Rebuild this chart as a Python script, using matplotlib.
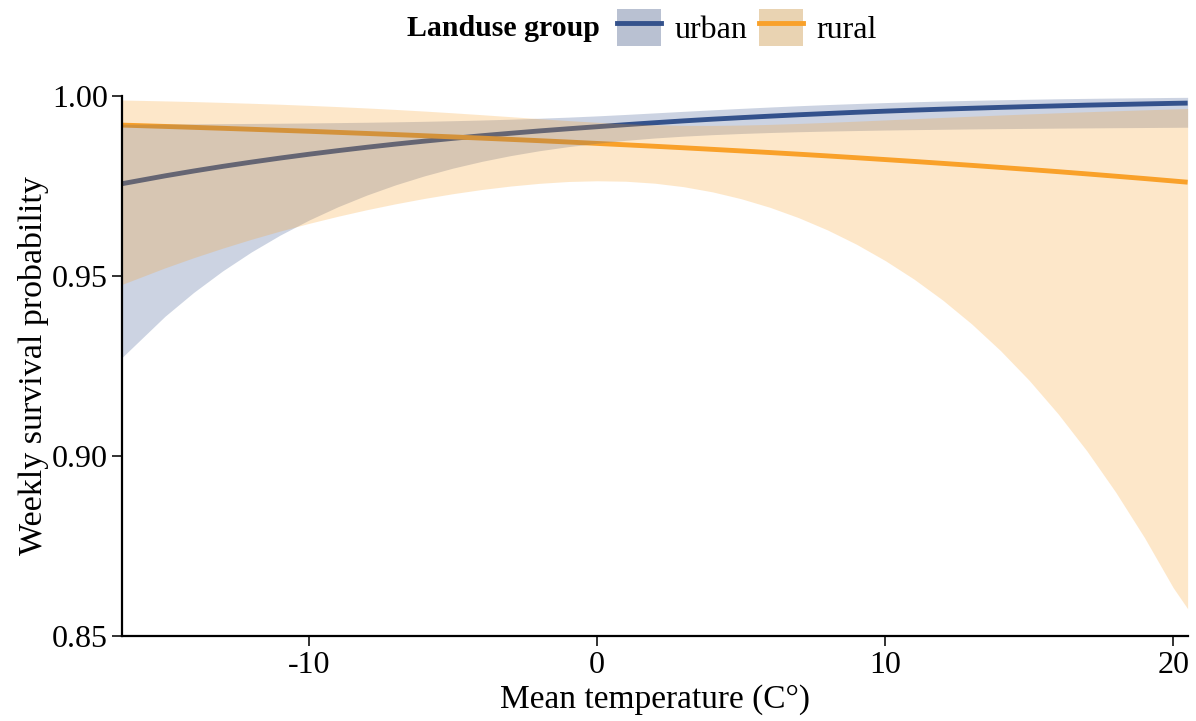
import matplotlib
matplotlib.use("Agg")
import matplotlib.pyplot as plt
from matplotlib.patches import Patch
from matplotlib.lines import Line2D

# weekly survival vs mean temperature
temp = [-16.5, -15, -14, -13, -12, -11, -10, -9, -8, -7, -6, -5, -4, -3, -2, -1, 0,
        1, 2, 3, 4, 5, 6, 7, 8, 9, 10, 11, 12, 13, 14, 15, 16, 17, 18, 19, 20, 20.5]

urban_fit = [0.97550, 0.97769, 0.97904, 0.98032, 0.98151, 0.98264, 0.98370, 0.98469, 0.98563, 0.98651,
             0.98733, 0.98811, 0.98884, 0.98952, 0.99017, 0.99077, 0.99134, 0.99191, 0.99245, 0.99296,
             0.99343, 0.99386, 0.99427, 0.99466, 0.99501, 0.99535, 0.99566, 0.99595, 0.99622, 0.99647,
             0.99671, 0.99693, 0.99713, 0.99733, 0.99750, 0.99767, 0.99783, 0.99790]
urban_lo = [0.92720, 0.93870, 0.94535, 0.95129, 0.95657, 0.96126, 0.96542, 0.96910, 0.97234, 0.97519,
            0.97768, 0.97985, 0.98172, 0.98332, 0.98468, 0.98581, 0.98674, 0.98756, 0.98821, 0.98872,
            0.98913, 0.98946, 0.98973, 0.98995, 0.99013, 0.99028, 0.99042, 0.99053, 0.99063, 0.99073,
            0.99081, 0.99088, 0.99095, 0.99101, 0.99107, 0.99112, 0.99117, 0.99120]
urban_hi = [0.99203, 0.99209, 0.99213, 0.99219, 0.99225, 0.99231, 0.99239, 0.99248, 0.99258, 0.99270,
            0.99284, 0.99301, 0.99320, 0.99343, 0.99370, 0.99400, 0.99435, 0.99475, 0.99518, 0.99561,
            0.99603, 0.99643, 0.99681, 0.99717, 0.99749, 0.99778, 0.99804, 0.99827, 0.99848, 0.99866,
            0.99883, 0.99897, 0.99910, 0.99921, 0.99931, 0.99939, 0.99947, 0.99950]

rural_fit = [0.99179, 0.99142, 0.99116, 0.99090, 0.99063, 0.99035, 0.99007, 0.98977, 0.98947, 0.98916,
             0.98884, 0.98851, 0.98817, 0.98782, 0.98746, 0.98709, 0.98670, 0.98631, 0.98591, 0.98549,
             0.98506, 0.98462, 0.98417, 0.98371, 0.98323, 0.98273, 0.98222, 0.98170, 0.98116, 0.98061,
             0.98004, 0.97946, 0.97886, 0.97824, 0.97760, 0.97695, 0.97627, 0.97593]
rural_lo = [0.94753, 0.95214, 0.95497, 0.95761, 0.96008, 0.96237, 0.96450, 0.96647, 0.96828, 0.96993,
            0.97142, 0.97275, 0.97391, 0.97487, 0.97562, 0.97613, 0.97633, 0.97620, 0.97566, 0.97469,
            0.97326, 0.97135, 0.96896, 0.96607, 0.96267, 0.95872, 0.95418, 0.94903, 0.94319, 0.93660,
            0.92920, 0.92091, 0.91165, 0.90134, 0.88990, 0.87727, 0.86333, 0.85750]
rural_hi = [0.99876, 0.99851, 0.99832, 0.99810, 0.99785, 0.99758, 0.99727, 0.99693, 0.99655, 0.99614,
            0.99569, 0.99520, 0.99468, 0.99413, 0.99358, 0.99305, 0.99257, 0.99216, 0.99188, 0.99172,
            0.99170, 0.99180, 0.99199, 0.99225, 0.99255, 0.99288, 0.99323, 0.99357, 0.99392, 0.99426,
            0.99459, 0.99490, 0.99521, 0.99550, 0.99577, 0.99603, 0.99628, 0.99640]

groups = ["urban", "rural"]
URBAN_COL = "#34528c"
RURAL_COL = "#f9a12a"

plt.rcParams['font.family'] = ['Liberation Serif', 'DejaVu Serif']
plt.rcParams['axes.unicode_minus'] = False

fig = plt.figure(figsize=(11.96, 7.21), dpi=100)
ax = fig.add_axes([0.1018, 0.1183, 0.8912, 0.7492])

# lines first, ribbons on top (like ggplot layer order)
ax.plot(temp, urban_fit, color=URBAN_COL, lw=3.5, zorder=1, solid_capstyle='butt')
ax.plot(temp, rural_fit, color=RURAL_COL, lw=3.5, zorder=1, solid_capstyle='butt')
ax.fill_between(temp, urban_lo, urban_hi, color=URBAN_COL, alpha=0.25, lw=0, zorder=2)
ax.fill_between(temp, rural_lo, rural_hi, color=RURAL_COL, alpha=0.25, lw=0, zorder=2)

ax.set_xlim(-16.5, 20.5)
ax.set_ylim(0.85, 1.0)
ax.set_xticks([-10, 0, 10, 20])
ax.set_yticks([0.85, 0.90, 0.95, 1.00])
ax.set_yticklabels(["0.85", "0.90", "0.95", "1.00"])

for side in ['top', 'right']:
    ax.spines[side].set_visible(False)
for side in ['left', 'bottom']:
    ax.spines[side].set_linewidth(1.6)
ax.tick_params(axis='both', labelsize=23, length=7, width=1.3, colors='#222222', labelcolor='black')
ax.tick_params(axis='x', pad=4)
ax.tick_params(axis='y', pad=3)

ax.set_xlabel("Mean temperature (C°)", fontsize=24, labelpad=3)
ax.set_ylabel("Weekly survival probability", fontsize=24.5, labelpad=2)

# legend across the top, title to the left of the keys
fig.text(0.5017, 0.960, "Landuse group", fontsize=21.5, fontweight='bold', ha='right', va='center')
key_cols = ["#b9c1d2", "#e9d3b2"]
handles = []
for col, kc in zip([URBAN_COL, RURAL_COL], key_cols):
    handles.append((Patch(facecolor=kc, edgecolor='none'), Line2D([], [], color=col, lw=3.5)))
fig.legend(handles, groups, loc='center left', bbox_to_anchor=(0.5159, 0.962), ncol=2, frameon=False,
           fontsize=23, handlelength=1.38, handleheight=1.41, handletextpad=0.42, columnspacing=0.36,
           borderpad=0, borderaxespad=0)

fig.savefig("out.png", dpi=100)
